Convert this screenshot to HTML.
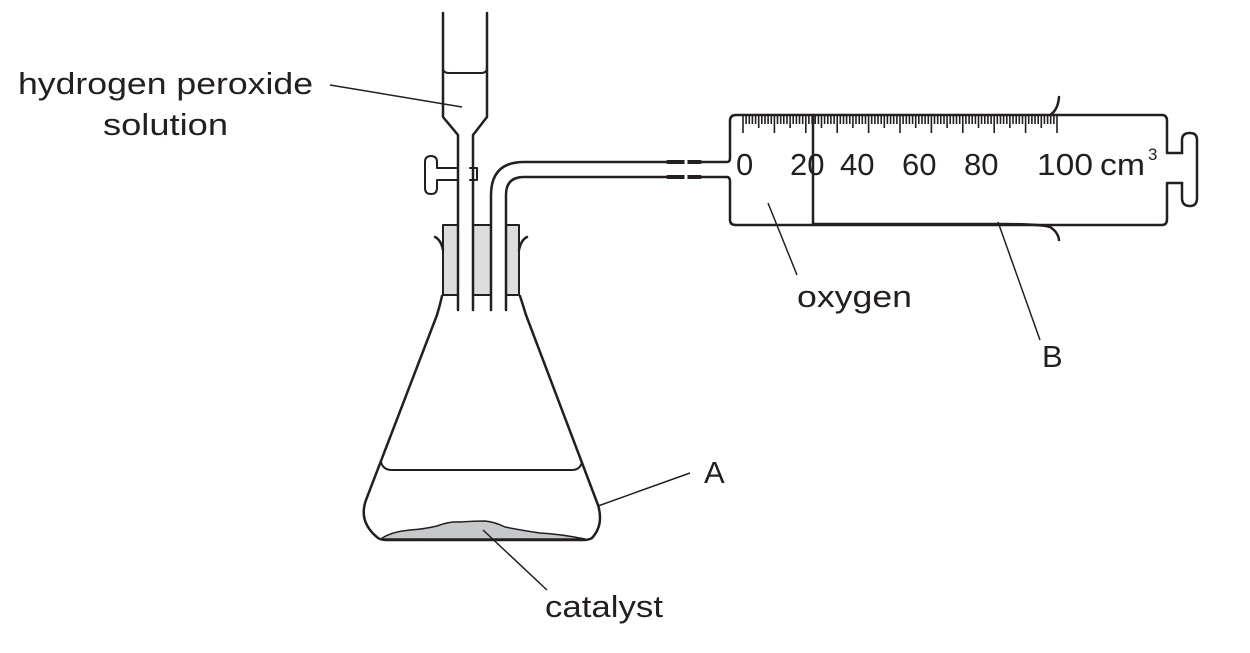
<!DOCTYPE html>
<html><head><meta charset="utf-8"><style>
html,body{margin:0;padding:0;background:#fff;}
svg{display:block;}
text{font-family:"Liberation Sans",sans-serif;fill:#231f20;}
</style></head><body>
<svg width="1250" height="653" viewBox="0 0 1250 653" xmlns="http://www.w3.org/2000/svg">
<g fill="none" stroke="#231f20" stroke-width="2.5" stroke-linejoin="round" stroke-linecap="round">
<rect x="443" y="225" width="76" height="70" fill="#dcdddf" stroke="#231f20" stroke-width="2"/>
<rect x="458" y="223" width="15" height="74" fill="#fff" stroke="none"/>
<rect x="491" y="223" width="15" height="74" fill="#fff" stroke="none"/>
<path d="M435 237 Q441 240 443 250 M527 237 Q521 240 519 250"/>
<path d="M443 13 V117 L458 135 V310 M487 13 V117 L473 135 V310"/>
<path d="M443 68 Q443 73 449 73 H481 Q487 73 487 68" stroke-width="2"/>
<path d="M470 168 H477 V180 H470 M458 168 H437 V162 Q437 156 431 156 Q425 156 425 162 V188 Q425 194 431 194 Q437 194 437 188 V180 H458" stroke-width="2"/>
<path d="M491 310 V195 Q491 162 524 162 H668 M506 310 V195 Q506 177 524 177 H668"/>
<path d="M668 162 H700 M668 177 H700" stroke-width="4"/>
<path d="M686 161 V163 M686 176 V178" stroke="#fff" stroke-width="3"/>
<path d="M700 162 H727 Q730 162 730 158 V121 Q730 115 736 115 H1162 Q1167 115 1167 121 V153 H1182 M700 177 H727 Q730 177 730 182 V220 Q730 225 736 225 H1162 Q1167 225 1167 219 V183 H1182"/>
<path d="M1182 153 V140 Q1182 133 1190 133 Q1197 133 1197 140 V198 Q1197 206 1190 206 Q1182 206 1182 198 V183" stroke-width="2.5"/>
<path d="M813 115 V224 H998 Q1040 224 1050 227 Q1058 232 1059 240 M1050 115 Q1058 110 1059 97"/>
<path d="M442 296 Q440 305 437 315 L366 500 Q358 522 378 538 Q381 540 387 540 H583 Q589 540 592 538 Q604 525 598 505 L526 315 Q523 305 520 296"/>
<path d="M381 462 Q383 470 392 470 H572 Q580 470 582 462" stroke-width="2"/>
<path d="M381 539 Q390 532 410 530 Q425 529 437 526 Q450 521 460 522 Q475 521 485 521 Q495 522 505 527 Q520 530 540 533 Q560 534 585 539 Z" fill="#c7c8ca" stroke-width="1.5"/>
</g>
<g stroke="#231f20" stroke-width="1.6">
<path d="
M743.0 115V133 M746.1 115V124 M749.3 115V124 M752.4 115V124 M755.6 115V124 M758.7 115V128 M761.8 115V124 M765.0 115V124 M768.1 115V124 M771.3 115V124
M774.4 115V133 M777.5 115V124 M780.7 115V124 M783.8 115V124 M787.0 115V124 M790.1 115V128 M793.2 115V124 M796.4 115V124 M799.5 115V124 M802.7 115V124
M805.8 115V133 M808.9 115V124 M812.1 115V124 M815.2 115V124 M818.4 115V124 M821.5 115V128 M824.6 115V124 M827.8 115V124 M830.9 115V124 M834.1 115V124
M837.2 115V133 M840.3 115V124 M843.5 115V124 M846.6 115V124 M849.8 115V124 M852.9 115V128 M856.0 115V124 M859.2 115V124 M862.3 115V124 M865.5 115V124
M868.6 115V133 M871.7 115V124 M874.9 115V124 M878.0 115V124 M881.2 115V124 M884.3 115V128 M887.4 115V124 M890.6 115V124 M893.7 115V124 M896.9 115V124
M900.0 115V133 M903.1 115V124 M906.3 115V124 M909.4 115V124 M912.6 115V124 M915.7 115V128 M918.8 115V124 M922.0 115V124 M925.1 115V124 M928.3 115V124
M931.4 115V133 M934.5 115V124 M937.7 115V124 M940.8 115V124 M944.0 115V124 M947.1 115V128 M950.2 115V124 M953.4 115V124 M956.5 115V124 M959.7 115V124
M962.8 115V133 M965.9 115V124 M969.1 115V124 M972.2 115V124 M975.4 115V124 M978.5 115V128 M981.6 115V124 M984.8 115V124 M987.9 115V124 M991.1 115V124
M994.2 115V133 M997.3 115V124 M1000.5 115V124 M1003.6 115V124 M1006.8 115V124 M1009.9 115V128 M1013.0 115V124 M1016.2 115V124 M1019.3 115V124 M1022.5 115V124
M1025.6 115V133 M1028.7 115V124 M1031.9 115V124 M1035.0 115V124 M1038.2 115V124 M1041.3 115V128 M1044.4 115V124 M1047.6 115V124 M1050.7 115V124 M1053.9 115V124
M1057.0 115V133"/>
</g>
<g stroke="#231f20" stroke-width="1.5" fill="none">
<path d="M330 85 L462 107"/>
<path d="M768 203 L797 275"/>
<path d="M998 222 L1040 340"/>
<path d="M598 506 L690 473"/>
<path d="M483 530 L547 590"/>
</g>
<g font-size="31">
<text x="18" y="94" textLength="295" lengthAdjust="spacingAndGlyphs">hydrogen peroxide</text>
<text x="103" y="135" textLength="125" lengthAdjust="spacingAndGlyphs">solution</text>
<text x="736" y="175">0</text>
<text x="790" y="175">20</text>
<text x="840" y="175">40</text>
<text x="902" y="175">60</text>
<text x="964" y="175">80</text>
<text x="1037" y="175" textLength="56" lengthAdjust="spacingAndGlyphs">100</text>
<text x="1100" y="175" textLength="45" lengthAdjust="spacingAndGlyphs">cm</text>
<text x="1148" y="160" font-size="17">3</text>
<text x="797" y="307" textLength="115" lengthAdjust="spacingAndGlyphs">oxygen</text>
<text x="1042" y="367">B</text>
<text x="704" y="483">A</text>
<text x="545" y="617" textLength="118" lengthAdjust="spacingAndGlyphs">catalyst</text>
</g>
</svg>
</body></html>
